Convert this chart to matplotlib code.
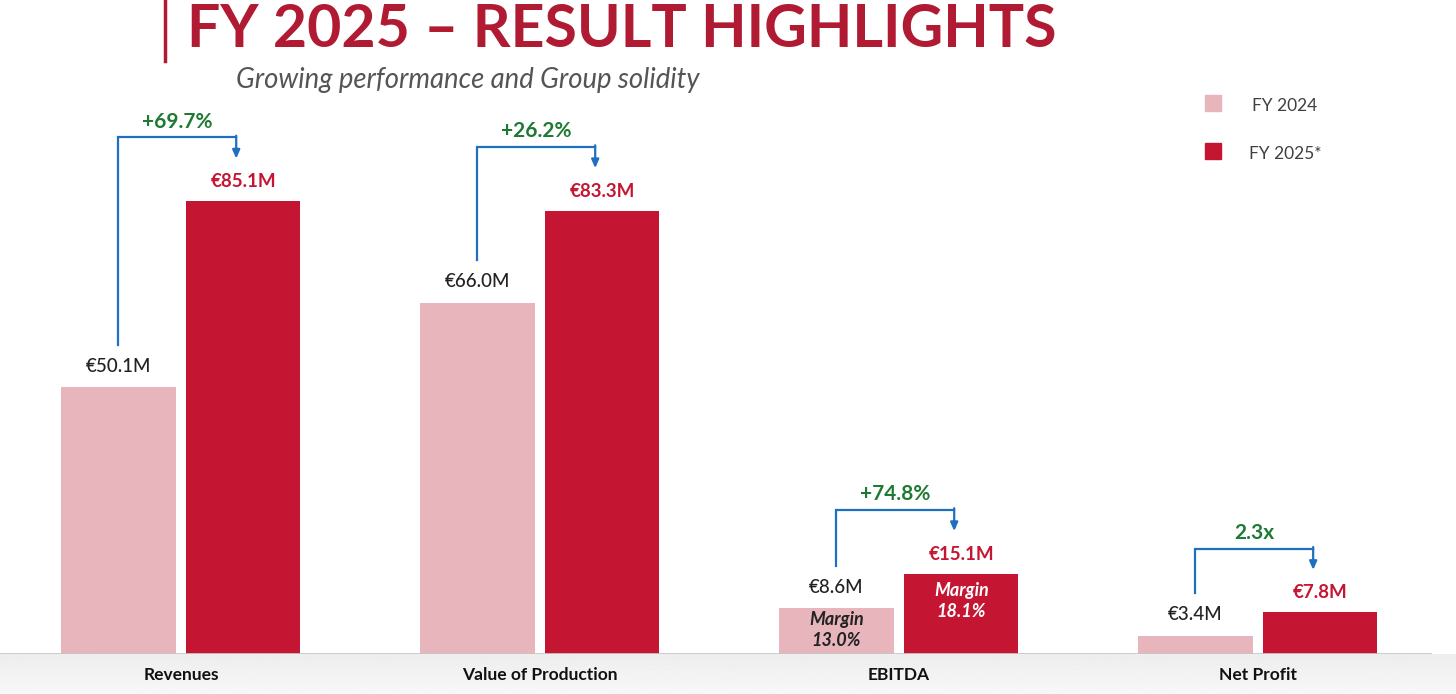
import matplotlib.pyplot as plt
import numpy as np

# data
categories = ["Revenues", "Value of Production", "EBITDA", "Net Profit"]
fy2024 = [50.1, 66.0, 8.6, 3.4]
fy2025 = [85.1, 83.3, 15.1, 7.8]
growth = ["+69.7%", "+26.2%", "+74.8%", "2.3x"]
margins_2024 = {2: "13.0%"}
margins_2025 = {2: "18.1%"}

PINK = "#e8b5bc"
RED = "#c41632"
TITLE_RED = "#b01a33"
GREEN = "#1e7a32"
BLUE = "#1f6fc0"

plt.rcParams['font.family'] = ['Lato', 'DejaVu Sans']

fig = plt.figure(figsize=(14.56, 6.94), dpi=100)
fig.patch.set_facecolor("white")

# light grey band under the baseline
band = fig.add_axes([0, 0, 1, 40 / 694])
grad = np.linspace(0.93, 0.97, 50).reshape(-1, 1)
band.imshow(grad, cmap="gray", vmin=0, vmax=1, aspect="auto", extent=[0, 1, 0, 1])
band.axis("off")

ax = fig.add_axes([0, 40 / 694, 1432 / 1456, 654 / 694])
ax.set_xlim(-0.504, 3.485)
ax.set_ylim(0, 122.9)
ax.axis("off")
ax.axhline(0, color="#c6c6c6", lw=2, zorder=5)

x = np.arange(len(categories))
w = 0.318
off = 0.174

ax.bar(x - off, fy2024, w, color=PINK, zorder=2)
ax.bar(x + off, fy2025, w, color=RED, zorder=2)

for i in range(len(categories)):
    a, b = fy2024[i], fy2025[i]
    ax.annotate(f"€{a:.1f}M", (x[i] - off, a), xytext=(0, 9), textcoords="offset points",
                ha="center", va="bottom", fontsize=13.5, color="#222222", fontweight="medium")
    ax.annotate(f"€{b:.1f}M", (x[i] + off, b), xytext=(0, 8), textcoords="offset points",
                ha="center", va="bottom", fontsize=13.5, color=RED, fontweight="bold")

    # bracket arrow from 2024 to 2025
    x0 = x[i] - off
    x1 = x[i] + off - 0.02
    y0 = a + 8
    top = b + 12
    y1 = b + 8
    ax.plot([x0, x0, x1], [y0, top, top], color=BLUE, lw=1.6, solid_joinstyle="miter", zorder=3)
    ax.annotate("", xy=(x1, y1), xytext=(x1, top + 0.3),
                arrowprops=dict(arrowstyle="-|>,head_length=0.5,head_width=0.22",
                                color=BLUE, lw=1.6, shrinkA=0, shrinkB=0))
    ax.annotate(growth[i], ((x0 + x1) / 2, top), xytext=(0, 4), textcoords="offset points",
                ha="center", va="bottom", fontsize=15, color=GREEN, fontweight="bold")

    ax.text(x[i], -0.032, categories[i], transform=ax.get_xaxis_transform(),
            ha="center", va="center", fontsize=12.5, fontweight="bold", color="#111111")

for i, m in margins_2024.items():
    ax.annotate(f"Margin\n{m}", (x[i] - off, fy2024[i]), xytext=(0, -2), textcoords="offset points",
                ha="center", va="top", fontsize=13, color="#222222", fontweight="bold",
                fontstyle="italic", linespacing=1.3)
for i, m in margins_2025.items():
    ax.annotate(f"Margin\n{m}", (x[i] + off, fy2025[i]), xytext=(0, -6), textcoords="offset points",
                ha="center", va="top", fontsize=13, color="white", fontweight="bold",
                fontstyle="italic", linespacing=1.3)

# title block
fig.text(187 / 1456, 1 - 47 / 694, "FY 2025 – RESULT HIGHLIGHTS", ha="left", va="baseline",
         fontsize=42.5, fontweight="bold", color=TITLE_RED)
fig.add_artist(plt.Line2D([165 / 1456, 165 / 1456], [1, 1 - 61 / 694], color=TITLE_RED, lw=2.5))
fig.text(236 / 1456, 1 - 80 / 694, "Growing performance and Group solidity", ha="left", va="center",
         fontsize=19.8, fontstyle="italic", color="#555555")

# legend
for yy, col, lab, tx in [(103, PINK, "FY 2024", 1252), (151, RED, "FY 2025*", 1249)]:
    fig.patches.append(plt.Rectangle(((1213 - 8) / 1456, 1 - (yy + 8) / 694), 16 / 1456, 16 / 694,
                                     transform=fig.transFigure, color=col))
    fig.text(tx / 1456, 1 - (yy + 3) / 694, lab, ha="left", va="center", fontsize=12.5, color="#404040")

fig.savefig("out.png", dpi=100)
